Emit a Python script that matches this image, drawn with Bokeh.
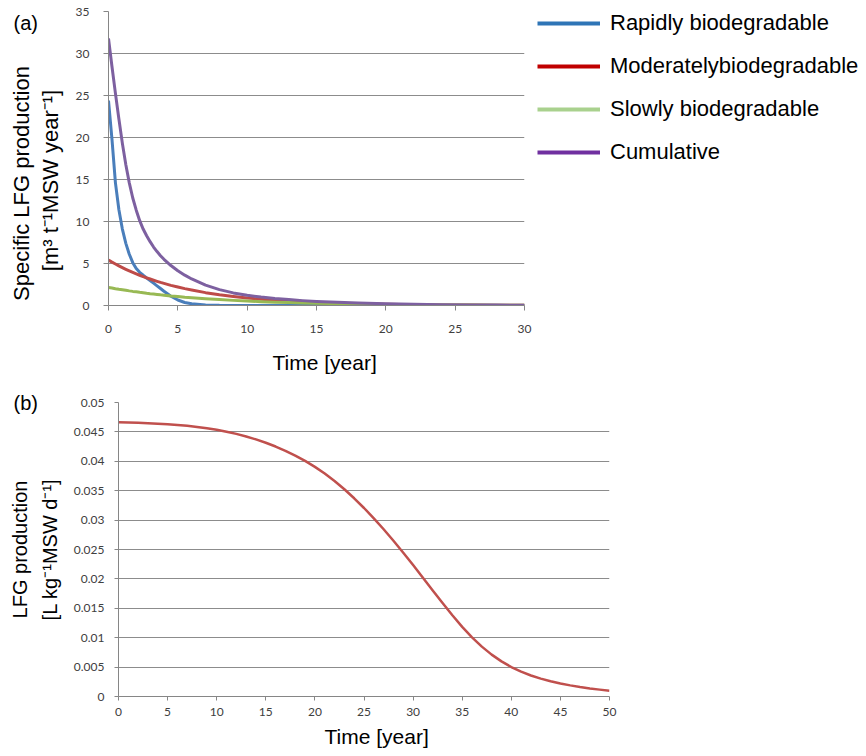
import math
from bokeh.plotting import figure
from bokeh.layouts import row
from bokeh.models import (Range1d, FixedTicker, Legend, LegendItem, Title, Label,
                          CustomJSTickFormatter)
from bokeh.embed import file_html
from bokeh.resources import INLINE

# ---------------- data: panel (a) ----------------
time_a = [0, 0.25, 0.5, 0.75, 1, 1.25, 1.5, 1.75, 2, 2.25, 2.5, 2.75, 3, 3.25, 3.5,
          3.75, 4, 4.5, 5, 5.5, 6, 7, 8, 9, 10, 11, 12, 13, 14, 15, 16, 18, 20, 22,
          24, 26, 28, 30]
rapid = [24.4, 19.8, 14.6, 11.4, 9.1, 7.4, 6.1, 5.1, 4.4, 3.95, 3.6, 3.28, 2.98, 2.66,
         2.34, 2.02, 1.70, 1.10, 0.65, 0.36, 0.20, 0.07, 0.02, 0.01, 0, 0, 0, 0, 0,
         0, 0, 0, 0, 0, 0, 0, 0, 0]
moderate = [5.40, 5.16, 4.94, 4.72, 4.51, 4.31, 4.12, 3.94, 3.77, 3.60, 3.44, 3.29,
            3.15, 3.01, 2.88, 2.75, 2.63, 2.40, 2.20, 2.01, 1.84, 1.53, 1.28, 1.07,
            0.89, 0.74, 0.62, 0.52, 0.43, 0.36, 0.30, 0.21, 0.15, 0.10, 0.07, 0.05,
            0.03, 0.02]
slow = [2.15, 2.08, 2.00, 1.93, 1.87, 1.81, 1.74, 1.68, 1.63, 1.57, 1.52, 1.46, 1.41,
        1.37, 1.32, 1.27, 1.23, 1.14, 1.07, 0.99, 0.93, 0.81, 0.70, 0.61, 0.53, 0.46,
        0.40, 0.35, 0.30, 0.26, 0.23, 0.17, 0.13, 0.10, 0.07, 0.06, 0.04, 0.03]
cumulative = [31.8, 28.45, 25.25, 22.2, 19.3, 16.75, 14.6, 12.8, 11.35, 10.1, 9.1, 8.3,
              7.6, 6.96, 6.42, 5.93, 5.50, 4.76, 4.14, 3.61, 3.16, 2.42, 1.89, 1.50,
              1.22, 1.0, 0.83, 0.70, 0.58, 0.49, 0.41, 0.29, 0.20, 0.14, 0.10, 0.07,
              0.05, 0.03]
series_names = ["Rapidly biodegradable", "Moderatelybiodegradable",
                "Slowly biodegradable", "Cumulative"]
x_ticks_a = [0, 5, 10, 15, 20, 25, 30]
y_ticks_a = [0, 5, 10, 15, 20, 25, 30, 35]

# ---------------- data: panel (b) ----------------
time_b = list(range(0, 51))
lfg = [0.04665, 0.04660, 0.04655, 0.04648, 0.04640, 0.04630, 0.04618, 0.04603, 0.04585,
       0.04563, 0.04536, 0.04504, 0.04466, 0.04422, 0.04372, 0.04315, 0.04251, 0.04179,
       0.04098, 0.04007, 0.03905, 0.03791, 0.03664, 0.03524, 0.03371, 0.03206, 0.03030,
       0.02844, 0.02649, 0.02446, 0.02236, 0.02021, 0.01804, 0.01589, 0.01381, 0.01185,
       0.01006, 0.00848, 0.00712, 0.00597, 0.00501, 0.00422, 0.00357, 0.00304, 0.00260,
       0.00222, 0.00189, 0.00161, 0.00137, 0.00117, 0.00099]
x_ticks_b = [0, 5, 10, 15, 20, 25, 30, 35, 40, 45, 50]
y_ticks_b = [0, 0.005, 0.01, 0.015, 0.02, 0.025, 0.03, 0.035, 0.04, 0.045, 0.05]

# ---------------- styles ----------------
line_colors = ["#4a7ebb", "#be4b48", "#98b954", "#7d60a0"]
legend_colors = ["#2e75b6", "#c00000", "#a9d18e", "#7030a0"]
AXIS_C = "#868686"
GRID_C = "#8c8c8c"
TICK_FONT = "Lato"
TEXT_FONT = "Liberation Sans"

TOP_H = 390
TOP_BORDER_T = 11
TOP_BORDER_B = 85


def style_axes(p, tick_out, sx, sy):
    for ax in (p.xaxis[0], p.yaxis[0]):
        ax.axis_line_color = AXIS_C
        ax.axis_line_width = 1
        ax.major_tick_line_color = AXIS_C
        ax.major_tick_out = tick_out
        ax.major_tick_in = 0
        ax.minor_tick_line_color = None
        ax.major_label_text_font = TICK_FONT
        ax.major_label_text_font_size = "12px"
        ax.major_label_text_color = "#404040"
    p.xaxis[0].major_label_standoff = sx
    p.yaxis[0].major_label_standoff = sy
    p.xgrid.visible = False
    p.ygrid.grid_line_color = GRID_C
    p.ygrid.grid_line_width = 1
    p.outline_line_color = None
    p.background_fill_color = "white"
    p.border_fill_color = "white"


def blank_fig(width):
    f = figure(width=width, height=TOP_H, x_axis_type=None, y_axis_type=None,
               x_range=Range1d(1000, 1001), y_range=Range1d(1000, 1001),
               output_backend="svg", toolbar_location=None,
               min_border_left=0, min_border_right=0,
               min_border_top=TOP_BORDER_T, min_border_bottom=TOP_BORDER_B)
    f.outline_line_color = None
    f.background_fill_color = "white"
    f.border_fill_color = "white"
    return f


def side_title(text, size, align, offset, valign, standoff):
    try:
        t = Title(text=text, text_font=TEXT_FONT, text_font_size=size,
                  text_font_style="normal", text_color="black", align=align,
                  offset=offset, vertical_align=valign, standoff=standoff)
    except Exception:
        t = Title(text=text, text_font=TEXT_FONT, text_font_size=size,
                  text_font_style="normal", text_color="black", align=align,
                  offset=offset, vertical_align=valign, standoff=0)
    return t


def screen_label(f, text, x, y, size, angle=0.0, align="center"):
    f.add_layout(Label(x=x, y=y, x_units="screen", y_units="screen", text=text,
                       text_font=TEXT_FONT, text_font_size=size, text_color="black",
                       text_align=align, text_baseline="middle", angle=angle))


# ---------------- panel (a): left text strip ----------------
pa_left = blank_fig(66)
screen_label(pa_left, "(a)", 13, 283, "20px", align="left")
screen_label(pa_left, "Specific LFG production", 21, 122, "22px", angle=math.pi / 2)
screen_label(pa_left, "[m\u00b3 t\u207b\u00b9MSW year\u207b\u00b9]", 50, 125, "22px",
             angle=math.pi / 2)

# ---------------- panel (a): chart ----------------
p1 = figure(width=466, height=TOP_H, x_range=Range1d(0, 30), y_range=Range1d(0, 35),
            output_backend="svg", toolbar_location=None,
            min_border_left=42, min_border_right=8, min_border_top=TOP_BORDER_T,
            min_border_bottom=TOP_BORDER_B)
p1.xaxis.ticker = FixedTicker(ticks=x_ticks_a)
p1.yaxis.ticker = FixedTicker(ticks=y_ticks_a)
style_axes(p1, 5, 14, 14)

for ys, c in zip([rapid, moderate, slow, cumulative], line_colors):
    p1.line(time_a, ys, line_color=c, line_width=3, line_join="round")

p1.add_layout(side_title("Time [year]", "21px", "left", 164, "bottom", 26), "below")

# ---------------- panel (a): legend strip ----------------
pa_right = blank_fig(334)
items = []
for name, ys, c in zip(series_names, [rapid, moderate, slow, cumulative], legend_colors):
    r = pa_right.line(time_a, ys, line_color=c, line_width=4)
    items.append(LegendItem(label=name, renderers=[r]))
legend = Legend(items=items, location=(5, 140), padding=0, margin=0, spacing=17,
                glyph_width=63, glyph_height=26, label_height=26, label_standoff=10,
                label_text_font=TEXT_FONT, label_text_font_size="22px",
                label_text_color="black", border_line_color=None,
                background_fill_alpha=0)
pa_right.add_layout(legend)

top = row(pa_left, p1, pa_right, spacing=0)

# ---------------- panel (b) ----------------
p2 = figure(width=866, height=366, x_range=Range1d(0, 50), y_range=Range1d(0, 0.05),
            output_backend="svg", toolbar_location=None,
            min_border_left=118, min_border_right=257, min_border_top=12,
            min_border_bottom=60)
p2.xaxis.ticker = FixedTicker(ticks=x_ticks_b)
p2.yaxis.ticker = FixedTicker(ticks=y_ticks_b)
p2.yaxis.formatter = CustomJSTickFormatter(
    code="return String(parseFloat(tick.toFixed(4)));")
style_axes(p2, 4, 7, 10)

p2.line(time_b, lfg, line_color="#c0504d", line_width=2.5, line_join="round")

p2.add_layout(side_title("(b)", "20px", "left", -105, "bottom", -22), "above")
p2.add_layout(side_title("[L kg\u207b\u00b9MSW d\u207b\u00b9]", "20px",
                         "center", 0, "top", 16), "left")
p2.add_layout(side_title("LFG production", "20px", "center", 0, "bottom", 0), "left")
p2.add_layout(side_title("Time [year]", "21px", "left", 206, "bottom", 9), "below")

open("out.html", "w").write(file_html([top, p2], INLINE))
